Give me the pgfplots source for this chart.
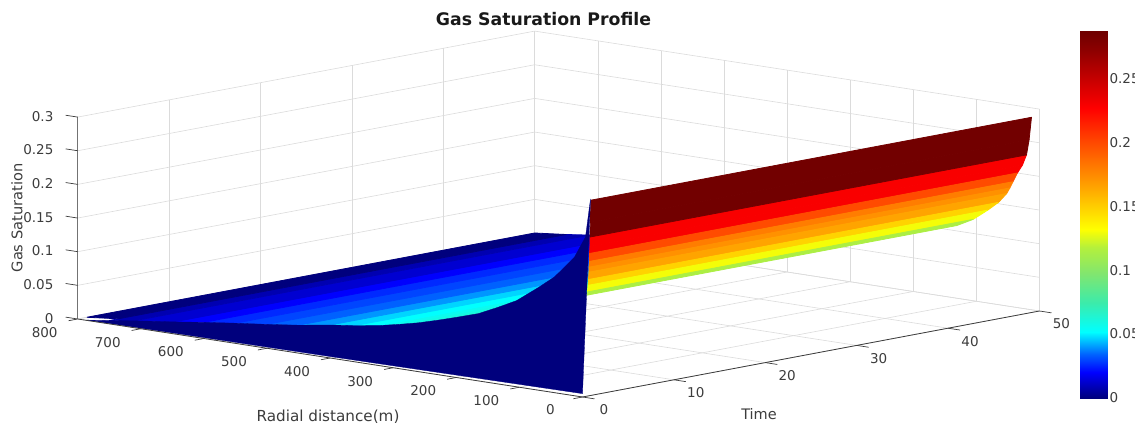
\documentclass[border=0pt]{standalone}
\usepackage{pgfplots}
\usepackage{fontspec}
\setmainfont{DejaVu Sans}
\pgfplotsset{compat=1.18}
\definecolor{tk}{RGB}{60,60,60}
\definecolor{wallblue}{RGB}{0,0,125}
\pgfplotsset{
  colormap={gasjet}{[1pt]
    rgb255(0pt)=(0,0,125); rgb255(7pt)=(0,0,255); rgb255(12pt)=(0,100,255);
    rgb255(18pt)=(0,255,255); rgb255(26pt)=(60,235,170); rgb255(34pt)=(130,230,110);
    rgb255(41pt)=(180,240,60); rgb255(46pt)=(255,255,0); rgb255(58pt)=(255,160,0);
    rgb255(70pt)=(255,70,0); rgb255(79pt)=(255,0,0); rgb255(95pt)=(140,0,0);
    rgb255(100pt)=(110,0,0)},
  sheet/.style={patch,patch type=rectangle,shader=faceted,faceted color=mapped color,line width=0.8pt,point meta=explicit}
}
\begin{document}
\begin{tikzpicture}[x=1pt,y=1pt]
\useasboundingbox (0,0) rectangle (1135,426);
\begin{axis}[
  at={(582.5pt,29pt)}, anchor=origin,
  x dir=reverse,
  x={(0.631pt,-0.0975pt)}, y={(9.14pt,1.72pt)}, z={(0pt,673pt)},
  xmin=0,xmax=800,ymin=0,ymax=50,zmin=0,zmax=0.3,
  xtick={0,100,...,800}, ytick={0,10,...,50},
  ztick={0,0.05,0.1,0.15,0.2,0.25,0.3},
  zticklabels={0,0.05,0.1,0.15,0.2,0.25,0.3},
  grid=major, grid style={gray!28,line width=0.6pt},
  axis line style={draw=none},
  tick style={draw=none},
  tick align=outside,
  tickwidth=11pt,
  xtick pos=lower, ytick pos=lower, ztick pos=lower,
  clip=false,
  tick label style={font=\fontsize{13.5}{15}\selectfont,text=tk},
  xticklabel style={xshift=-14pt,yshift=-1.5pt},
  yticklabel style={xshift=3pt,yshift=-2pt},
  zticklabel style={xshift=-10pt,yshift=3pt},
  /pgf/number format/assume math mode=true,
  colormap name=gasjet,
  point meta min=0, point meta max=0.287,
]
% left part of the sheet
\addplot3[sheet] table[x=r,y=t,z=z,meta=m] {
r t z m
800 1 0 0
750 1 0.005 0
750 50 0.005 0
800 50 0 0
750 0 0.005 0.008
713 0 0.0095 0.008
713 50 0.0095 0.008
750 50 0.005 0.008
713 0 0.0095 0.013
650 0 0.017 0.013
650 45.64 0.017 0.013
713 50 0.0095 0.013
650 0 0.0175 0.02
600 0 0.024 0.02
600 42.2 0.024 0.02
650 45.64 0.0175 0.02
600 0 0.024 0.026
550 0 0.030 0.026
550 38.7 0.030 0.026
600 42.2 0.024 0.026
550 0 0.030 0.030
500 0 0.0355 0.030
500 35.3 0.0355 0.030
550 38.7 0.030 0.030
500 0 0.0355 0.034
450 0 0.0415 0.034
450 31.8 0.0415 0.034
500 35.3 0.0355 0.034
450 0 0.0415 0.040
400 0 0.049 0.040
400 28.4 0.049 0.040
450 31.8 0.0415 0.040
400 0 0.049 0.047
360 0 0.054 0.047
360 25.6 0.054 0.047
400 28.4 0.049 0.047
360 0 0.054 0.052
320 0 0.060 0.052
320 22.9 0.060 0.052
360 25.6 0.054 0.052
320 0 0.060 0.056
290 0 0.066 0.056
290 20.8 0.066 0.056
320 22.9 0.060 0.056
290 0 0.066 0.059
260 0 0.0726 0.059
260 18.7 0.0726 0.059
290 20.8 0.066 0.059
260 0 0.0726 0.062
230 0 0.0807 0.062
230 16.6 0.0807 0.062
260 18.7 0.0726 0.062
230 0 0.0807 0.065
200 0 0.0894 0.065
200 14.6 0.0894 0.065
230 16.6 0.0807 0.065
200 0 0.0894 0.068
165 0 0.100 0.068
165 12.2 0.100 0.068
200 14.6 0.0894 0.068
};
% right part of the sheet
\addplot3[sheet] table[x=r,y=t,z=z,meta=m] {
r t z m
131 9.54 0.108 0.1145
105 7.8 0.121 0.1145
105 50 0.121 0.1145
131 50 0.108 0.1145
105 7.8 0.121 0.130
82 6.26 0.138 0.130
82 50 0.138 0.130
105 50 0.121 0.130
82 6.26 0.138 0.148
65 5.14 0.152 0.148
65 50 0.152 0.148
82 50 0.138 0.148
65 5.14 0.152 0.165
52 4.3 0.167 0.165
52 50 0.167 0.165
65 50 0.152 0.165
52 4.3 0.167 0.172
47 3.96 0.176 0.172
47 50 0.176 0.172
52 50 0.167 0.172
47 3.96 0.176 0.180
42 3.67 0.186 0.180
42 50 0.186 0.180
47 50 0.176 0.180
42 3.67 0.186 0.199
35 3.18 0.200 0.199
35 50 0.200 0.199
42 50 0.186 0.199
35 3.18 0.200 0.229
27 2.68 0.213 0.229
27 50 0.213 0.229
35 50 0.200 0.229
27 2.68 0.213 0.229
20.6 2.24 0.229 0.229
20.6 50 0.229 0.229
27 50 0.213 0.229
20.6 2.24 0.229 0.285
16.5 2 0.252 0.285
16.5 50 0.252 0.285
20.6 50 0.229 0.285
16.5 2 0.252 0.285
12.7 1.8 0.286 0.285
12.7 50 0.286 0.285
16.5 50 0.252 0.285
};
% dark wall at the first time step
\addplot3[fill=wallblue,draw=wallblue,line width=0.3pt] coordinates {
(785,0,0.0005) (700,0,0.0116) (650,0,0.0175) (600,0,0.024) (550,0,0.030) (500,0,0.0355)
(450,0,0.0415) (400,0,0.049) (360,0,0.054) (320,0,0.060) (290,0,0.066) (260,0,0.0726)
(230,0,0.0807) (200,0,0.0894) (165,0,0.100) (135,0,0.1134) (104.6,0,0.128) (70,0,0.1525)
(44.4,0,0.172) (25,0,0.1926) (12.7,0,0.206) (0,0.33,0.237) (0,0.875,0.292)
(0,0,0.005) (400,0,0.0022) (785,0,0.0005)} -- cycle;
% axis lines and tick marks
\addplot3[tk,line width=0.8pt] coordinates {(800,0,0) (0,0,0) (0,50,0)};
\addplot3[gray!90!black,line width=0.9pt] coordinates {(800,0,0) (800,0,0.3)};
\addplot3[tk,line width=0.7pt,unbounded coords=jump] table[x=r,y=t,z=z] {
r t z
800 0 0
800 -1 0
nan nan nan
700 0 0
700 -1 0
nan nan nan
600 0 0
600 -1 0
nan nan nan
500 0 0
500 -1 0
nan nan nan
400 0 0
400 -1 0
nan nan nan
300 0 0
300 -1 0
nan nan nan
200 0 0
200 -1 0
nan nan nan
100 0 0
100 -1 0
nan nan nan
0 0 0
0 -1 0
nan nan nan
0 0 0
-19 0 0
nan nan nan
0 10 0
-19 10 0
nan nan nan
0 20 0
-19 20 0
nan nan nan
0 30 0
-19 30 0
nan nan nan
0 40 0
-19 40 0
nan nan nan
0 50 0
-19 50 0
nan nan nan
800 0 0
819 0 0
nan nan nan
800 0 0.05
819 0 0.05
nan nan nan
800 0 0.1
819 0 0.1
nan nan nan
800 0 0.15
819 0 0.15
nan nan nan
800 0 0.2
819 0 0.2
nan nan nan
800 0 0.25
819 0 0.25
nan nan nan
800 0 0.3
819 0 0.3
};
\end{axis}
% colour bar
\begin{axis}[
  at={(1080pt,28pt)}, anchor=south west,
  scale only axis, width=27pt, height=367pt,
  xmin=0,xmax=1,ymin=0,ymax=0.287,
  xtick=\empty,
  ytick={0,0.05,0.1,0.15,0.2,0.25},
  yticklabels={$0$,$0.05$,$0.1$,$0.15$,$0.2$,$0.25$},
  yticklabels={{0},{0.05},{0.1},{0.15},{0.2},{0.25}},
  ytick pos=right, yticklabel pos=right,
  tick align=inside, tickwidth=4pt,
  tick style={tk},
  axis line style={tk,line width=0.6pt},
  yticklabel style={font=\fontsize{13.5}{15}\selectfont,text=tk,xshift=-1pt,text width=40pt,align=left},
  /pgf/number format/assume math mode=true,
  colormap name=gasjet,
  point meta min=0, point meta max=0.287,
]
\addplot[patch,patch type=rectangle,shader=interp,point meta=explicit] table[x=x,y=y,meta=m] {
x y m
0 0 0
1 0 0
1 0.287 0.287
0 0.287 0.287
};
\end{axis}
\node[font=\bfseries\fontsize{17.3}{19}\selectfont,text=black!90] at (543.5,407) {Gas Saturation Profile};
\node[font=\fontsize{15.2}{17}\selectfont,text=tk] at (328,9) {Radial distance(m)};
\node[font=\fontsize{14.5}{17}\selectfont,text=tk] at (759,12) {Time};
\node[font=\fontsize{14.6}{17}\selectfont,text=tk,rotate=90] at (17,208) {Gas Saturation};
\end{tikzpicture}
\end{document}
